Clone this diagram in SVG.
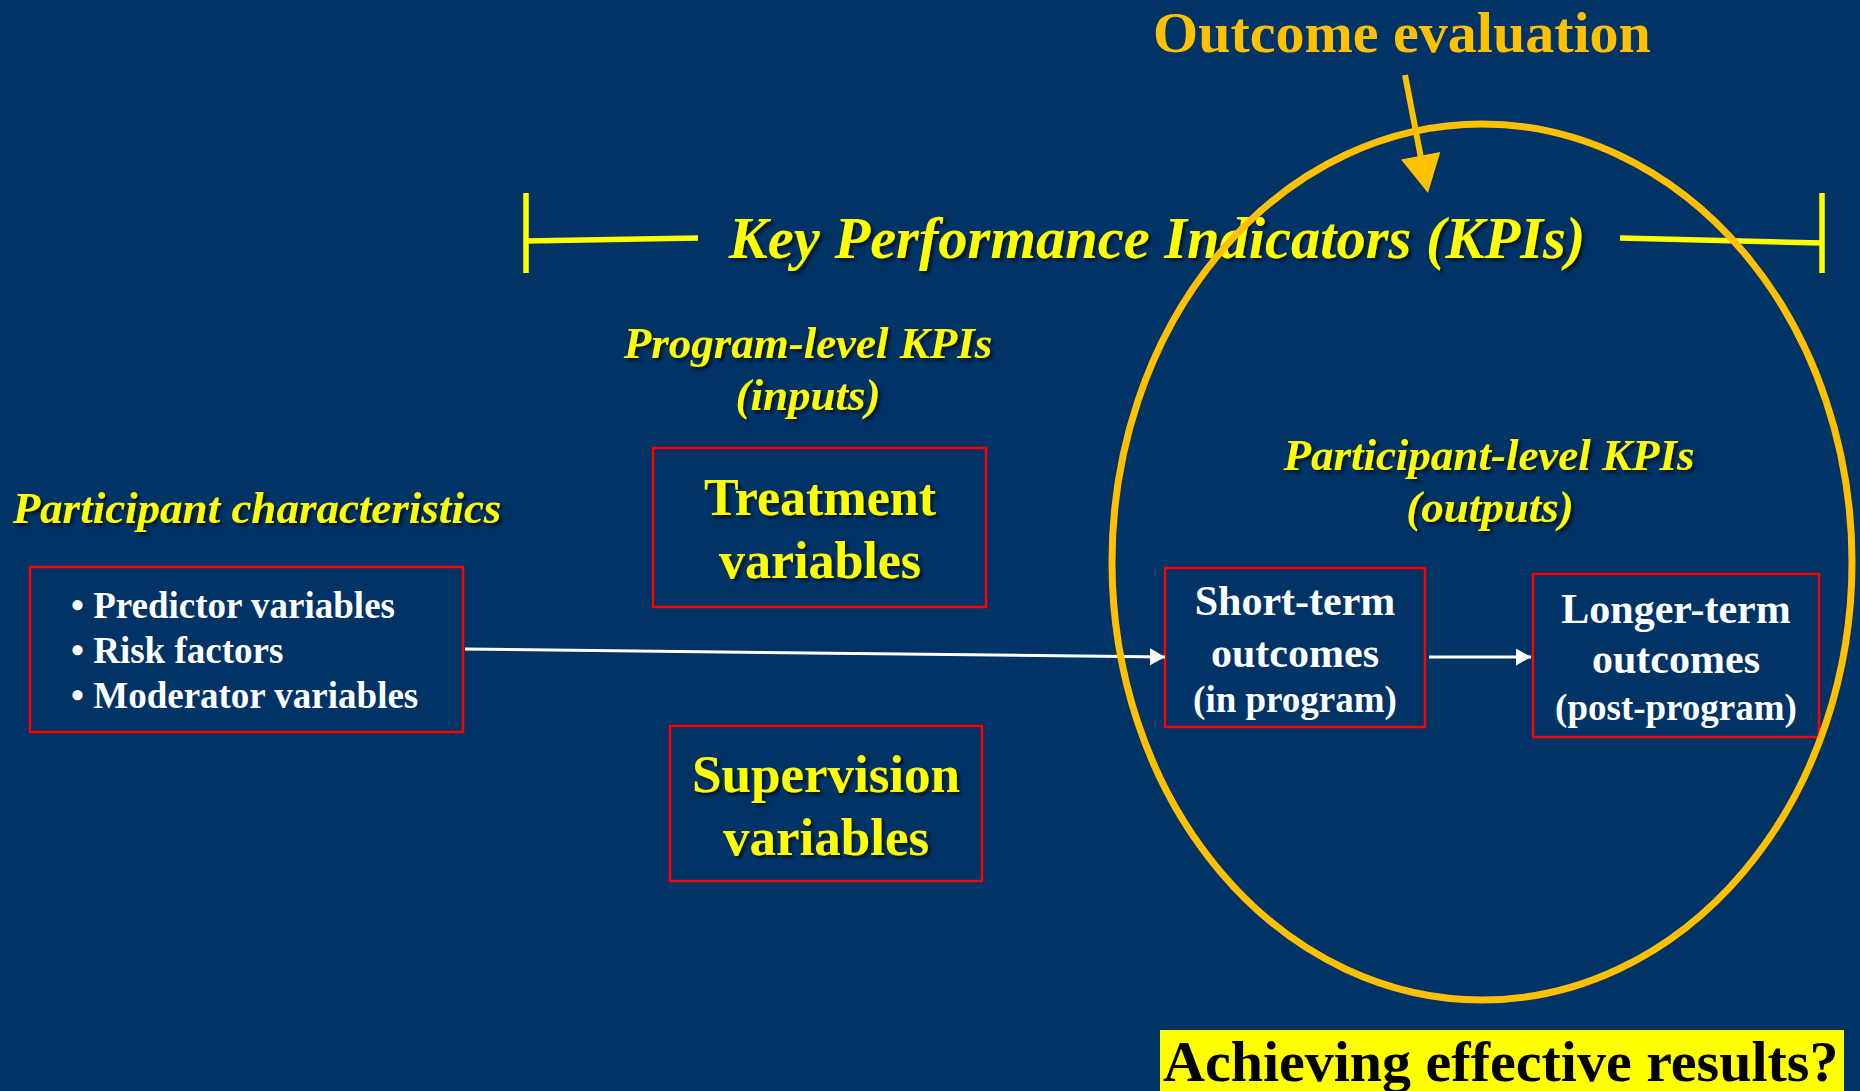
<svg xmlns="http://www.w3.org/2000/svg" width="1860" height="1091" viewBox="0 0 1860 1091">
<style>
.ser{font-family:"Liberation Serif","Times New Roman",serif;font-weight:bold}
.yi{fill:#FFFF00;font-style:italic;filter:url(#sh)}
.yb{fill:#FFFF00;filter:url(#sh)}
.wh{fill:#FFFFFF}
.box{fill:none;stroke:#FF0000;stroke-width:2.5}
.conn{stroke:#FFFFFF;stroke-width:3;fill:none}
.brk{stroke:#FFFF00;stroke-width:5.5;fill:none}
</style>
<defs>
<filter id="sh" x="-5%" y="-20%" width="110%" height="150%">
<feDropShadow dx="3" dy="3" stdDeviation="1.5" flood-color="#000000" flood-opacity="0.55"/>
</filter>
<marker id="wa" markerUnits="userSpaceOnUse" markerWidth="16" markerHeight="18" refX="15" refY="8.5" orient="auto">
<path d="M0,0 L15,8.5 L0,17 z" fill="#FFFFFF"/>
</marker>
</defs>
<rect x="0" y="0" width="1860" height="1091" fill="#003366"/>

<g id="title">
<text class="ser" x="1402" y="52" text-anchor="middle" font-size="58" fill="#FFC000">Outcome evaluation</text>
</g>

<g id="kpi-bracket">
<path class="brk" d="M526,193 V273 M526,241 L698,238 M1620,238 L1822,243 M1822,193 V273"/>
<text class="ser yi" x="1157" y="258" text-anchor="middle" font-size="58.5">Key Performance Indicators (KPIs)</text>
</g>

<g id="program-level-label">
<text class="ser yi" x="808" y="358" text-anchor="middle" font-size="45">Program-level KPIs</text>
<text class="ser yi" x="808" y="410" text-anchor="middle" font-size="45">(inputs)</text>
</g>

<g id="participant-characteristics-label">
<text class="ser yi" x="257" y="523" text-anchor="middle" font-size="45">Participant characteristics</text>
</g>

<g id="participant-level-label">
<text class="ser yi" x="1489" y="470" text-anchor="middle" font-size="45">Participant-level KPIs</text>
<text class="ser yi" x="1490" y="522" text-anchor="middle" font-size="45">(outputs)</text>
</g>

<g id="participant-box">
<rect class="box" x="30" y="567" width="433" height="165"/>
<text class="ser wh" x="71" y="618" font-size="37">• Predictor variables</text>
<text class="ser wh" x="71" y="663" font-size="37">• Risk factors</text>
<text class="ser wh" x="71" y="708" font-size="37">• Moderator variables</text>
</g>

<g id="treatment-box">
<rect class="box" x="653" y="448" width="333" height="159"/>
<text class="ser yb" x="820" y="515" text-anchor="middle" font-size="52">Treatment</text>
<text class="ser yb" x="820" y="578" text-anchor="middle" font-size="52">variables</text>
</g>

<g id="supervision-box">
<rect class="box" x="670" y="726" width="312" height="155"/>
<text class="ser yb" x="826" y="792" text-anchor="middle" font-size="53">Supervision</text>
<text class="ser yb" x="826" y="855" text-anchor="middle" font-size="53">variables</text>
</g>

<g id="short-term-box">
<rect class="box" x="1165" y="568" width="260" height="159"/>
<text class="ser wh" x="1295" y="615" text-anchor="middle" font-size="42">Short-term</text>
<text class="ser wh" x="1295" y="667" text-anchor="middle" font-size="42">outcomes</text>
<text class="ser wh" x="1295" y="712" text-anchor="middle" font-size="37">(in program)</text>
</g>

<g id="longer-term-box">
<rect class="box" x="1533" y="574" width="286" height="163"/>
<text class="ser wh" x="1676" y="623" text-anchor="middle" font-size="42">Longer-term</text>
<text class="ser wh" x="1676" y="673" text-anchor="middle" font-size="42">outcomes</text>
<text class="ser wh" x="1676" y="720" text-anchor="middle" font-size="37">(post-program)</text>
</g>

<g id="connectors">
<line class="conn" x1="465" y1="649" x2="1165" y2="657" marker-end="url(#wa)"/>
<line class="conn" x1="1429" y1="657" x2="1531" y2="657" marker-end="url(#wa)"/>
</g>

<g id="outcome-ellipse">
<ellipse cx="1482" cy="562" rx="370" ry="438" fill="none" stroke="#FFC000" stroke-width="7"/>
<line x1="1405" y1="75" x2="1421" y2="158" stroke="#FFC000" stroke-width="6"/>
<polygon points="1428,193 1401,159.5 1440.3,151.9" fill="#FFC000"/>
</g>

<g id="results-banner">
<rect x="1160" y="1030" width="684" height="61" fill="#FFFF00"/>
<text class="ser" x="1163" y="1081" font-size="58" fill="#000000">Achieving effective results?</text>
</g>
</svg>
